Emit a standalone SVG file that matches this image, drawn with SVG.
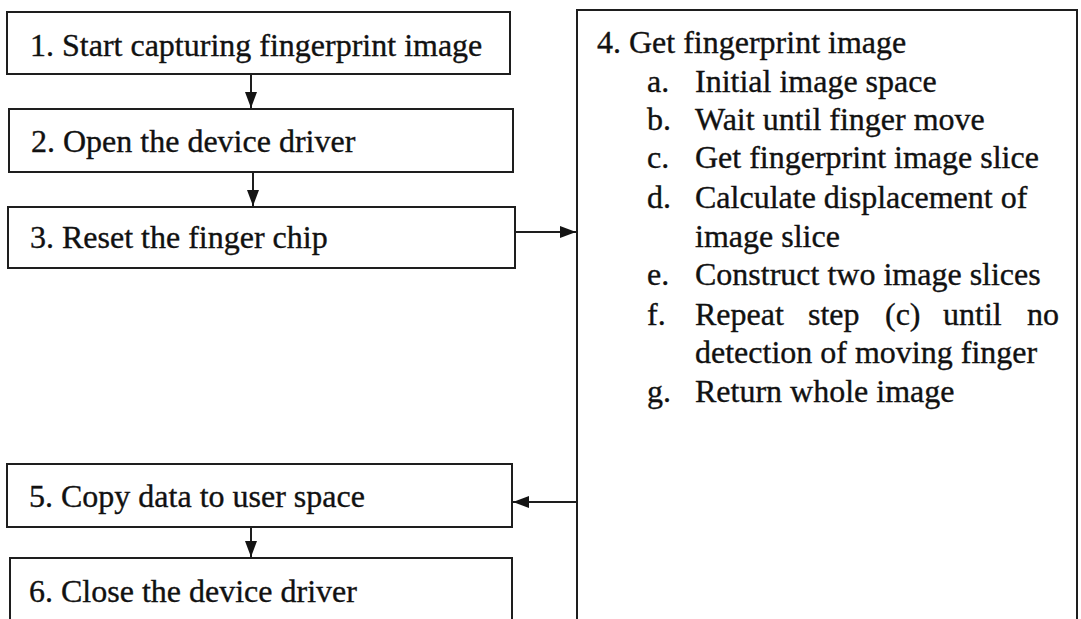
<svg xmlns="http://www.w3.org/2000/svg" width="1081" height="619" viewBox="0 0 1081 619">
  <style>
    .box { fill: #ffffff; stroke: #1e1e1e; stroke-width: 2; }
    .lbl { font-family: "Liberation Serif", "Times New Roman", serif; font-size: 32px; fill: #111111; stroke: #111111; stroke-width: 0.35; }
    .edge { stroke: #1e1e1e; stroke-width: 2; fill: none; }
  </style>
  <defs>
    <marker id="arrow" viewBox="0 0 16 12" refX="16" refY="6" markerWidth="16" markerHeight="12" markerUnits="userSpaceOnUse" orient="auto">
      <path d="M0,0 L16,6 L0,12 Z" fill="#141414"/>
    </marker>
  </defs>
  <rect width="1081" height="619" fill="#ffffff"/>

  <g id="step1">
    <rect class="box" x="7" y="12" width="503" height="62"/>
    <text class="lbl" x="30" y="56">1. Start capturing fingerprint image</text>
  </g>
  <g id="step2">
    <rect class="box" x="9" y="109" width="504" height="63"/>
    <text class="lbl" x="31" y="152">2. Open the device driver</text>
  </g>
  <g id="step3">
    <rect class="box" x="8" y="207" width="507" height="61"/>
    <text class="lbl" x="30" y="248">3. Reset the finger chip</text>
  </g>
  <g id="step4">
    <path class="box" d="M577,625 L577,10 L1077,10 L1077,625"/>
    <text class="lbl" x="597" y="53">4. Get fingerprint image</text>
    <text class="lbl" x="647" y="92">a.</text>
    <text class="lbl" x="695" y="92">Initial image space</text>
    <text class="lbl" x="647" y="130">b.</text>
    <text class="lbl" x="695" y="130">Wait until finger move</text>
    <text class="lbl" x="647" y="168">c.</text>
    <text class="lbl" x="695" y="168">Get fingerprint image slice</text>
    <text class="lbl" x="647" y="208">d.</text>
    <text class="lbl" x="695" y="208">Calculate displacement of</text>
    <text class="lbl" x="695" y="247">image slice</text>
    <text class="lbl" x="647" y="285">e.</text>
    <text class="lbl" x="695" y="285">Construct two image slices</text>
    <text class="lbl" x="647" y="325">f.</text>
    <text class="lbl" y="325"><tspan x="695">Repeat</tspan> <tspan x="808">step</tspan> <tspan x="885">(c)</tspan> <tspan x="943">until</tspan> <tspan x="1027">no</tspan></text>
    <text class="lbl" x="695" y="363">detection of moving finger</text>
    <text class="lbl" x="647" y="402">g.</text>
    <text class="lbl" x="695" y="402">Return whole image</text>
  </g>
  <g id="step5">
    <rect class="box" x="7" y="464" width="505" height="63"/>
    <text class="lbl" x="29" y="507">5. Copy data to user space</text>
  </g>
  <g id="step6">
    <rect class="box" x="10" y="558" width="502" height="70"/>
    <text class="lbl" x="29" y="602">6. Close the device driver</text>
  </g>

  <g id="connectors">
    <line class="edge" x1="251" y1="75" x2="251" y2="108" marker-end="url(#arrow)"/>
    <line class="edge" x1="253" y1="173" x2="253" y2="206" marker-end="url(#arrow)"/>
    <line class="edge" x1="515" y1="232" x2="576" y2="232" marker-end="url(#arrow)"/>
    <line class="edge" x1="577" y1="502" x2="513" y2="502" marker-end="url(#arrow)"/>
    <line class="edge" x1="251" y1="528" x2="251" y2="557" marker-end="url(#arrow)"/>
  </g>
</svg>
